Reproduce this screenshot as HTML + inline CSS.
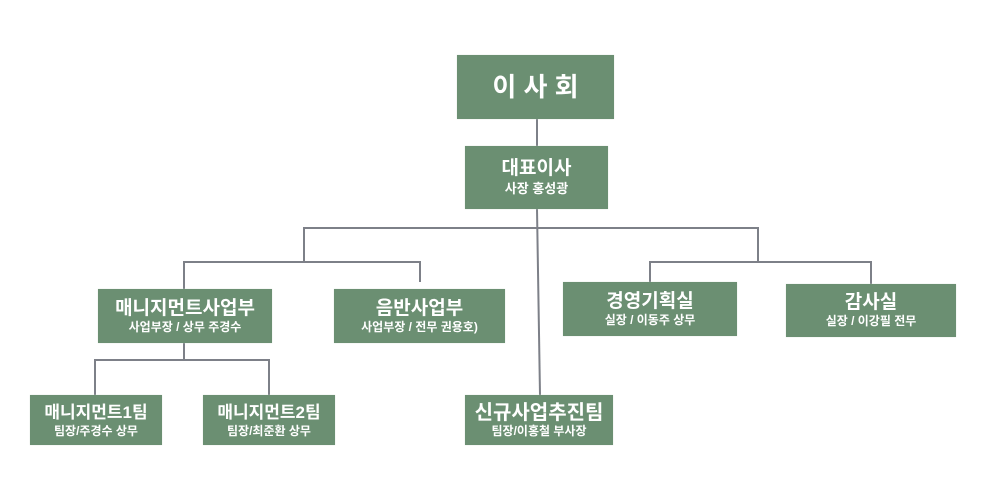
<!DOCTYPE html>
<html><head><meta charset="utf-8"><style>
body{margin:0;background:#fff;width:994px;height:499px;position:relative;overflow:hidden;font-family:"Liberation Sans","Noto Sans CJK KR",sans-serif}
.b{position:absolute;background:#6b8f72;color:#fff;text-align:center;display:flex;flex-direction:column;justify-content:center;align-items:center;box-shadow:0 0 1px #cfd8d0}
.t{font-weight:bold;font-size:19px;line-height:22px}
.s{font-weight:bold;font-size:12px;line-height:15px}
svg{position:absolute;left:0;top:0}
</style></head><body>
<svg width="994" height="499"><g stroke="#7d8088" stroke-width="2" fill="none">
<line x1="537" y1="119" x2="537" y2="146"/>
<line x1="537" y1="209" x2="540" y2="395"/>
<polyline points="304,262 304,228 758,228 758,262"/>
<polyline points="184,289 184,262 420,262 420,282"/>
<polyline points="650,282 650,262 871,262 871,284"/>
<line x1="184" y1="343" x2="184" y2="359"/>
<polyline points="95,395 95,360 269,360 269,395"/>
</g></svg>
<div class="b" style="left:457px;top:55px;width:157px;height:64px"><div class="t" style="font-size:26px;line-height:30px">이 사 회</div></div>
<div class="b" style="left:465px;top:146px;width:143px;height:63px"><div class="t">대표이사</div><div class="s" style="font-size:13px;line-height:17px">사장 홍성광</div></div>
<div class="b" style="left:98px;top:289px;width:174px;height:54px"><div class="t">매니지먼트사업부</div><div class="s">사업부장 / 상무 주경수</div></div>
<div class="b" style="left:334px;top:289px;width:171px;height:54px"><div class="t">음반사업부</div><div class="s">사업부장 / 전무 권용호)</div></div>
<div class="b" style="left:563px;top:282px;width:174px;height:54px"><div class="t">경영기획실</div><div class="s">실장 / 이동주 상무</div></div>
<div class="b" style="left:786px;top:284px;width:170px;height:53px"><div class="t">감사실</div><div class="s">실장 / 이강필 전무</div></div>
<div class="b" style="left:30px;top:395px;width:132px;height:50px"><div class="t" style="font-size:17px">매니지먼트1팀</div><div class="s">팀장/주경수 상무</div></div>
<div class="b" style="left:203px;top:395px;width:132px;height:50px"><div class="t" style="font-size:17px">매니지먼트2팀</div><div class="s">팀장/최준환 상무</div></div>
<div class="b" style="left:465px;top:395px;width:148px;height:50px"><div class="t" style="font-size:20px">신규사업추진팀</div><div class="s">팀장/이홍철 부사장</div></div>
</body></html>
